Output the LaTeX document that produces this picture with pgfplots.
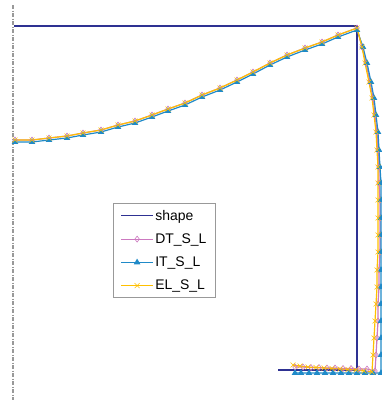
\documentclass[border=0pt]{standalone}
\usepackage{pgfplots}
\pgfplotsset{compat=1.18}
\usepackage{fontspec}
\setmainfont{Liberation Sans}
\definecolor{shapec}{RGB}{46,49,146}
\definecolor{dtc}{RGB}{204,121,192}
\definecolor{itc}{RGB}{31,138,200}
\definecolor{elc}{RGB}{255,192,0}
\begin{document}
\begin{tikzpicture}
\begin{axis}[
  scale only axis, width=382bp, height=400bp,
  xmin=0, xmax=382, ymin=0, ymax=400, y dir=reverse,
  axis lines=none, clip=false,
  legend style={at={(axis cs:113,203)}, anchor=north west, draw=gray!80, line width=0.8pt,
    font=\fontsize{14}{16}\selectfont, inner xsep=7bp, inner ysep=5bp,
    nodes={inner sep=1.5bp}, row sep=9bp},
  legend cell align=left,
  legend image code/.code={\draw[mark repeat=2,mark phase=2,#1] plot coordinates {(0bp,0bp) (16bp,0bp) (32bp,0bp)};},
]
\addplot[gray!80, line width=1.2pt, dash pattern=on 4bp off 1.5bp on 1bp off 1.5bp, forget plot] coordinates {(13,5) (13,400)};
\addplot[shapec, line width=1.4pt, no marks] coordinates {(14,26) (357,26) (357,370) (278,370)};
\addlegendentry{shape\hspace{12bp}}
\addplot[dtc, line width=1.2pt, mark=diamond, mark size=3bp, mark options={solid, line width=0.6pt}] coordinates {
(15,140) (32,140) (49,138) (67,136) (83,133) (101,130) (118,125) (135,121) (152,115) (168,109) (185,103) (202,95) (220,88) (237,80) (253,72) (270,63) (287,55) (305,48) (322,42) (338,35) (357,28)
(362,47) (366,63) (370,82) (373,98) (375,115) (377,132) (378,150) (379,167) (379,183) (380,200) (380,218) (380,235) (380,252) (379,270) (379,287) (378,304) (378,321) (377,338) (376,355) (375,371)
(367,369) (359,369) (351,368.5) (343,368.5) (335,368) (327,368) (319,367.5) (311,367.5) (303,367) (295,367)};
\addlegendentry{DT\_S\_L\hspace{12bp}}
\addplot[itc, line width=1.2pt, mark=triangle*, mark size=2.6bp, mark options={solid}] coordinates {
(15,142) (32,142) (49,140) (67,138) (83,135) (101,132) (118,127) (135,123) (152,117) (168,111) (185,105) (202,97) (220,90) (237,82) (253,74) (270,65) (287,57) (305,50) (322,44) (338,37) (357,30)
(363,47) (367,63) (371,82) (374,98) (376,115) (378,132) (379,150) (380,167) (381,183) (381,200) (381,218) (381,235) (381,252) (381,270) (381,287) (381,304) (381,321) (381,338) (381,355) (381,373)
(373,373) (365,373) (357,373) (349,373) (341,373) (333,373) (325,373) (317,373) (309,373) (301,373) (295,373)};
\addlegendentry{IT\_S\_L\hspace{12bp}}
\addplot[elc, line width=1.2pt, mark=x, mark size=3.5bp, mark options={solid, line width=0.6pt}] coordinates {
(15,140) (32,140) (49,138) (67,136) (83,133) (101,130) (118,125) (135,121) (152,115) (168,109) (185,103) (202,95) (220,88) (237,80) (253,72) (270,63) (287,55) (305,48) (322,42) (338,35) (357,28)
(362,47) (365,63) (369,82) (372,98) (374,115) (376,132) (377,150) (378,167) (378,183) (378,200) (378,218) (378,235) (378,252) (377,270) (377,287) (376,304) (375,321) (374,338) (373,355) (372,372)
(364,371) (356,370) (348,369.5) (340,369) (332,368.5) (324,368) (316,367.5) (308,367) (300,366) (293,365)};
\addlegendentry{EL\_S\_L\hspace{12bp}}
\end{axis}
\pgfresetboundingbox
\path (current axis.south west) rectangle (current axis.north east);
\end{tikzpicture}
\end{document}
